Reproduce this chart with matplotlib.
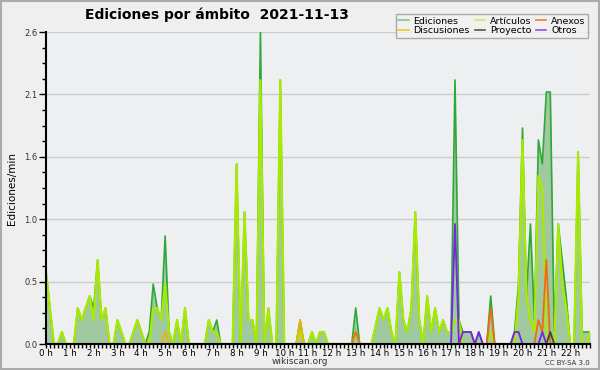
import numpy as np
import matplotlib
matplotlib.use("Agg")
import matplotlib.pyplot as plt
from matplotlib.lines import Line2D
from matplotlib.patches import Rectangle
from matplotlib.ticker import MultipleLocator, FixedLocator

# 10-minute bins from 00:00 to 22:50 (edits per minute)
ediciones = [0.6, 0.3, 0, 0, 0.1, 0, 0, 0, 0.3, 0.2,
             0.3, 0.4, 0.3, 0.7, 0.2, 0.3, 0, 0, 0.2, 0.1,
             0, 0, 0.1, 0.2, 0.1, 0, 0.1, 0.5, 0.3, 0.2,
             0.9, 0.1, 0, 0.2, 0, 0.3, 0, 0, 0, 0,
             0, 0.2, 0.1, 0.2, 0, 0, 0, 0, 1.5, 0,
             1.1, 0.2, 0.2, 0, 2.6, 0, 0.3, 0, 0, 2.2,
             0, 0, 0, 0, 0.2, 0, 0, 0.1, 0, 0.1,
             0.1, 0, 0, 0, 0, 0, 0, 0, 0.3, 0,
             0, 0, 0, 0.15, 0.3, 0.2, 0.3, 0.1, 0, 0.6,
             0.2, 0.1, 0.3, 1.1, 0.2, 0, 0.4, 0.1, 0.3, 0.1,
             0.2, 0.1, 0.1, 2.2, 0.2, 0.1, 0.1, 0.1, 0, 0.1,
             0, 0, 0.4, 0, 0, 0, 0, 0, 0.1, 0.5,
             1.8, 0.4, 1.0, 0.2, 1.7, 1.5, 2.1, 2.1, 0.1, 1.0,
             0.7, 0.4, 0, 0, 1.6, 0.1, 0.1, 0.1]

articulos = [0.6, 0.3, 0, 0, 0.1, 0, 0, 0, 0.3, 0.2,
             0.3, 0.4, 0.2, 0.7, 0.2, 0.3, 0, 0, 0.2, 0.1,
             0, 0, 0.1, 0.2, 0.1, 0, 0, 0.3, 0.3, 0.2,
             0.5, 0.1, 0, 0.2, 0, 0.3, 0, 0, 0, 0,
             0, 0.2, 0.1, 0.1, 0, 0, 0, 0, 1.5, 0,
             1.1, 0.2, 0.2, 0, 2.2, 0, 0.3, 0, 0, 2.2,
             0, 0, 0, 0, 0.1, 0, 0, 0.1, 0, 0.1,
             0.1, 0, 0, 0, 0, 0, 0, 0, 0.1, 0,
             0, 0, 0, 0.15, 0.3, 0.2, 0.3, 0.1, 0, 0.6,
             0.2, 0.1, 0.3, 1.1, 0.2, 0, 0.4, 0.1, 0.3, 0.1,
             0.2, 0.1, 0.1, 0.2, 0.2, 0, 0, 0, 0, 0,
             0, 0, 0.1, 0, 0, 0, 0, 0, 0, 0.4,
             1.7, 0.4, 0.2, 0.1, 1.4, 1.3, 0.1, 0, 0, 1.0,
             0.5, 0.3, 0, 0, 1.6, 0, 0, 0.1]

n_bins = len(ediciones)
discusiones = np.zeros(n_bins)
discusiones[30] = 0.1
discusiones[64] = 0.2

anexos = np.zeros(n_bins)
for i, v in [(78, 0.1), (112, 0.3), (124, 0.2), (125, 0.1), (126, 0.7)]:
    anexos[i] = v

proyecto = np.zeros(n_bins)
proyecto[127] = 0.1

otros = np.zeros(n_bins)
for i, v in [(103, 1.0), (105, 0.1), (106, 0.1), (107, 0.1), (109, 0.1),
             (118, 0.1), (119, 0.1), (125, 0.1)]:
    otros[i] = v

hours = np.arange(n_bins) / 6.0
hour_labels = [f"{h} h" for h in range(23)]

fig = plt.figure(figsize=(6.0, 3.7), dpi=100)
fig.patch.set_facecolor("#efefef")
ax = fig.add_axes([46 / 600, 1 - 344 / 370, 544 / 600, 312 / 370])
ax.set_facecolor("#eeeff1")

ax.fill_between(hours, ediciones, 0, color="#a0c9a0", lw=0, zorder=2)
ax.plot(hours, ediciones, color="#2ea836", lw=1.2, zorder=3)
ax.plot(hours, articulos, color="#a8ea00", lw=1.6, zorder=4)
ax.plot(hours, discusiones, color="#f0b400", lw=1.3, zorder=5)
ax.plot(hours, anexos, color="#f06a1c", lw=1.3, zorder=5)
ax.plot(hours, proyecto, color="#444444", lw=1.3, zorder=5)
ax.plot(hours, otros, color="#7a22e8", lw=1.3, zorder=6)

ax.set_xlim(0, (n_bins - 1) / 6.0)
ax.set_ylim(0, 2.6)

ymaj = [0, 0.52, 1.04, 1.56, 2.08, 2.6]
ax.yaxis.set_major_locator(FixedLocator(ymaj))
ax.set_yticklabels([f"{v:.1f}" for v in ymaj])
ax.yaxis.set_minor_locator(MultipleLocator(0.13))
ax.xaxis.set_major_locator(FixedLocator(list(range(23))))
ax.set_xticklabels(hour_labels)
ax.xaxis.set_minor_locator(MultipleLocator(1 / 6))

ax.grid(axis="y", color="#cccccc", lw=1, zorder=1)
ax.set_axisbelow(True)
for s in ["top", "right"]:
    ax.spines[s].set_visible(False)
for s in ["left", "bottom"]:
    ax.spines[s].set_linewidth(1.5)
    ax.spines[s].set_zorder(10)

ax.tick_params(axis="y", which="major", length=5, width=1, labelsize=6, pad=1, labelcolor="#333333")
ax.tick_params(axis="y", which="minor", length=3, width=1)
ax.tick_params(axis="x", which="major", length=3, width=1, labelsize=6.3, pad=0.3)
ax.tick_params(axis="x", which="minor", length=3, width=1)

ax.set_ylabel("Ediciones/min", fontsize=7.5, labelpad=5)

fig.text(85 / 600, 1 - 15 / 370, "Ediciones por ámbito  2021-11-13",
         fontsize=10, fontweight="bold", ha="left", va="center")
fig.text(300 / 600, 1 - 362 / 370, "wikiscan.org", fontsize=6.5, ha="center", va="center", color="#333333")
fig.text(590 / 600, 1 - 363 / 370, "CC BY-SA 3.0", fontsize=5, ha="right", va="center", color="#333333")

handles = [
    Line2D([], [], color="#7fca7f", lw=1.2, label="Ediciones"),
    Line2D([], [], color="#f0c830", lw=1.2, label="Discusiones"),
    Line2D([], [], color="#c8f048", lw=1.2, label="Artículos"),
    Line2D([], [], color="#555555", lw=1.2, label="Proyecto"),
    Line2D([], [], color="#f07a40", lw=1.2, label="Anexos"),
    Line2D([], [], color="#9050e8", lw=1.2, label="Otros"),
]
leg = fig.legend(handles=handles, ncol=3, loc="upper right",
                 bbox_to_anchor=(593 / 600, 1 - 9 / 370), fontsize=6.8,
                 frameon=True, fancybox=False, shadow=False,
                 handlelength=1.1, handletextpad=0.5, columnspacing=0.5,
                 labelspacing=0.05, borderpad=0.3)
leg.get_frame().set_edgecolor("#999999")
leg.get_frame().set_facecolor("#f2f2f2")
leg.get_frame().set_linewidth(1)

fig.patches.append(Rectangle((0.002, 0.003), 0.996, 0.994, transform=fig.transFigure,
                             fill=False, edgecolor="#aaaaaa", lw=1.5))

fig.savefig("out.png", dpi=100, facecolor=fig.get_facecolor())
